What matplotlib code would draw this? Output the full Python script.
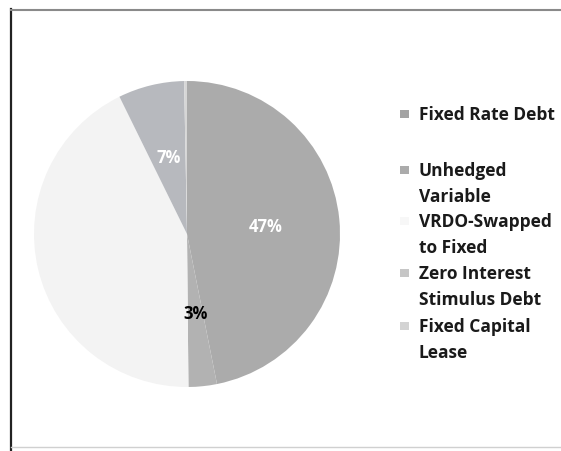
import matplotlib
matplotlib.use("Agg")
import matplotlib.pyplot as plt
from matplotlib.patches import Rectangle
from matplotlib.lines import Line2D

categories = ["Fixed Rate Debt", "Unhedged\nVariable", "VRDO-Swapped\nto Fixed",
              "Zero Interest\nStimulus Debt", "Fixed Capital\nLease"]
values = [47, 3, 43, 7, 0.3]
colors = ["#ababab", "#b2b2b2", "#f3f3f3", "#b7b9be", "#d6d6d6"]
marker_colors = ["#a3a3a3", "#ababab", "#f7f7f7", "#c6c6c6", "#d3d3d3"]
label_colors = ["white", "black", "#f3f3f3", "white", "white"]

W, H = 561, 452
fig = plt.figure(figsize=(W / 100, H / 100), dpi=100)
fig.patch.set_facecolor("white")

cx, cy, r = 187, 235, 153
ax = fig.add_axes([(cx - r) / W, (H - cy - r) / H, 2 * r / W, 2 * r / H])

def pct(p):
    return f"{p:.0f}%" if p >= 1 else ""

wedges, texts, autotexts = ax.pie(values, colors=colors, startangle=90, counterclock=False,
                                  autopct=pct, pctdistance=0.52,
                                  wedgeprops=dict(linewidth=0),
                                  textprops=dict(fontsize=12, fontweight="bold", family="Open Sans"))
for t, c in zip(autotexts, label_colors):
    t.set_color(c)
ax.set_aspect("equal")
ax.set_xlim(-1, 1)
ax.set_ylim(-1, 1)
ax.axis("off")

# legend drawn manually
first_line_y = [115, 171, 222, 274, 327]
line_h = 26.5
for cat, mc, y0 in zip(categories, marker_colors, first_line_y):
    fig.patches.append(Rectangle((400 / W, 1 - (y0 + 4) / H), 9 / W, 8 / H,
                                 transform=fig.transFigure, facecolor=mc,
                                 edgecolor="none"))
    for i, line in enumerate(cat.split("\n")):
        fig.text(419 / W, 1 - (y0 + i * line_h) / H, line, ha="left", va="center",
                 fontsize=12.5, fontweight="bold", family="Open Sans", color="#1a1a1a")

# frame
fig.add_artist(Line2D([11 / W, 11 / W], [1 - 10 / H, 0], transform=fig.transFigure,
                      color="#222222", linewidth=1.6))
fig.add_artist(Line2D([11 / W, 1], [1 - 11 / H, 1 - 11 / H], transform=fig.transFigure,
                      color="#8a8a8a", linewidth=1.5))
fig.add_artist(Line2D([11 / W, 1], [1 - 448 / H, 1 - 448 / H], transform=fig.transFigure,
                      color="#d0d0d0", linewidth=1.0))

fig.savefig("out.png", dpi=100)
